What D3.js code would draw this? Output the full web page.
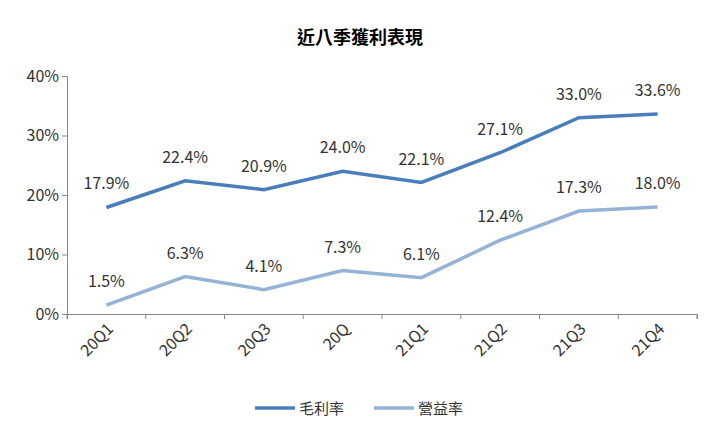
<!DOCTYPE html><html><head><meta charset="utf-8"><script src="https://cdn.jsdelivr.net/npm/d3@7"></script>
<style>body{margin:0;background:#fff}text{font-family:"Noto Sans CJK TC","Open Sans",sans-serif}</style></head><body><svg id="c" width="720" height="437"></svg>
<script>
const categories=["20Q1","20Q2","20Q3","20Q","21Q1","21Q2","21Q3","21Q4"];
const gross=[17.9,22.4,20.9,24.0,22.1,27.1,33.0,33.6];
const operating=[1.5,6.3,4.1,7.3,6.1,12.4,17.3,18.0];
const yTicks=[0,10,20,30,40];
const seriesNames=["毛利率","營益率"];
const svg=d3.select("#c");
const x=d3.scaleBand().domain(categories).range([67,697]);
const y=d3.scaleLinear().domain([0,40]).range([314,76]);
svg.append("text").attr("x",360).attr("y",44).attr("text-anchor","middle").attr("font-size",18).attr("font-weight","bold").text("近八季獲利表現");
const ya=svg.append("g").attr("transform","translate(67,0)").call(d3.axisLeft(y).tickValues(yTicks).tickFormat(d=>d+"%").tickSize(5));
ya.selectAll("text").attr("font-size",16).attr("fill","#333").attr("font-family","Open Sans");
const xa=svg.append("g").attr("transform","translate(0,314)").call(d3.axisBottom(x).tickSize(5).tickValues([]));
svg.append("g").selectAll("line").data(d3.range(9)).join("line").attr("x1",i=>67+i*x.step()).attr("x2",i=>67+i*x.step()).attr("y1",314).attr("y2",319).attr("stroke","#888");
svg.selectAll(".domain").attr("stroke","#888");ya.selectAll(".tick line").attr("stroke","#888");
svg.append("g").selectAll("text").data(categories).join("text").attr("font-size",16).attr("fill","#333").attr("font-family","Open Sans")
 .attr("text-anchor","end").attr("transform",d=>`translate(${x(d)+x.bandwidth()/2+8},${330}) rotate(-45)`).text(d=>d);
const cx=(d,i)=>x(categories[i])+x.bandwidth()/2;
[[gross,"#4a7ebb"],[operating,"#95b3d7"]].forEach(([data,col])=>{
 svg.append("path").datum(data).attr("fill","none").attr("stroke",col).attr("stroke-width",3.5)
  .attr("d",d3.line().x(cx).y(d=>y(d)));
 svg.append("g").selectAll("text").data(data).join("text").attr("x",cx).attr("y",d=>y(d)-18).attr("text-anchor","middle")
  .attr("font-size",16).attr("fill","#333").attr("font-family","Open Sans").text(d=>d.toFixed(1)+"%");
});
const lg=svg.append("g");
[[seriesNames[0],"#4a7ebb",255],[seriesNames[1],"#95b3d7",374]].forEach(([n,c,lx])=>{
 lg.append("line").attr("x1",lx).attr("x2",lx+40).attr("y1",408).attr("y2",408).attr("stroke",c).attr("stroke-width",3.5);
 lg.append("text").attr("x",lx+44).attr("y",414).attr("font-size",15).attr("fill","#333").text(n);
});
</script></body></html>
